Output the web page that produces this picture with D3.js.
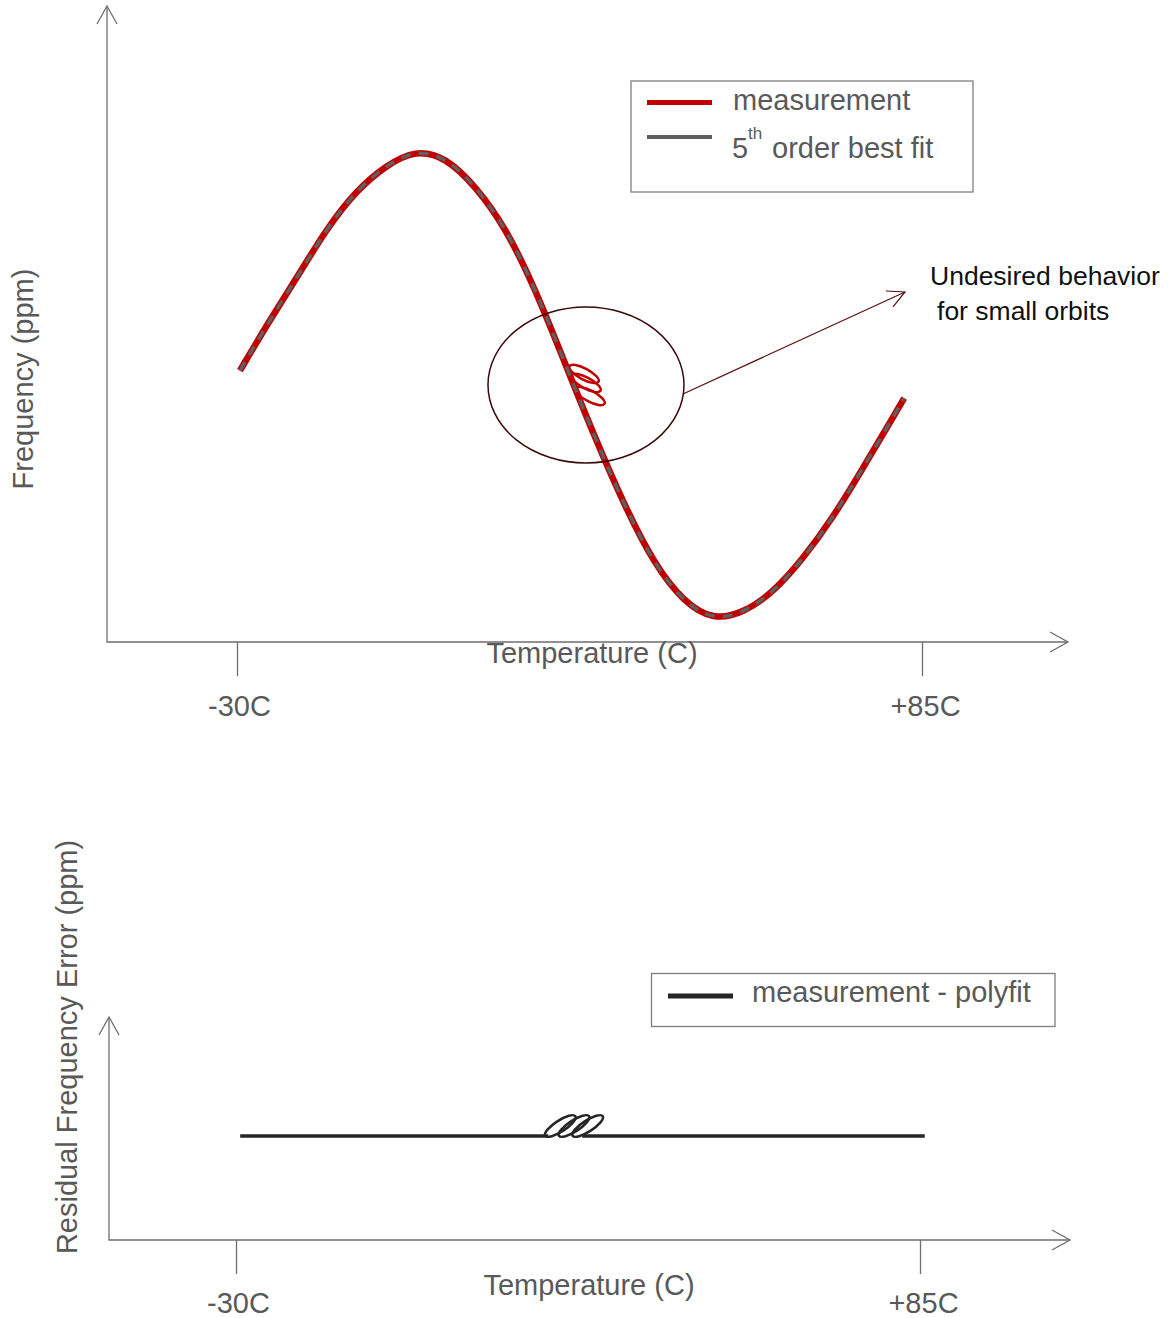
<!DOCTYPE html>
<html>
<head>
<meta charset="utf-8">
<script src="https://cdn.jsdelivr.net/npm/d3@7"></script>
<style>
  body { margin: 0; background: #fff; }
  svg { display: block; font-family: "Liberation Sans", Arial, sans-serif; }
</style>
</head>
<body>
<svg id="chart" width="1175" height="1318"></svg>
<script>
// top chart: frequency vs temperature
const temps = [-29.5, -25, -20, -15, -10, -5, 0, 5, 10, 15, 20, 25, 30, 35, 40, 45, 50, 55, 60, 65, 70, 75, 80, 82];
const measuredPpm = [1.2, 5.0, 8.9, 13.0, 16.2, 18.3, 19.6, 19.0, 16.6, 13.2, 8.1, 1.9, -4.3, -10.0, -14.9, -18.1, -19.6, -19.0, -17.3, -14.5, -11.1, -7.0, -2.8, -1.1];
const fitPpm = [1.2, 5.0, 8.9, 13.0, 16.2, 18.3, 19.6, 19.0, 16.6, 13.2, 8.1, 1.9, -4.3, -10.0, -14.9, -18.1, -19.6, -19.0, -17.3, -14.5, -11.1, -7.0, -2.8, -1.1];

// the small orbit loops (loop centres)
const orbitTemps = [28.26, 28.59, 29.26];
const orbitPpm = [0.92, 0.17, -0.92];

// bottom chart: residual (null = the loops take over)
const residualTemps = [-29.3, -10, 10, 22.5, 25, 28.2, 50, 70, 85.8];
const residualPpm = [0, 0, 0, 0, null, 0, 0, 0, 0];
const residualOrbitTemps = [24.52, 26.83, 29.13];
const residualOrbitPpm = [0.1, 0.1, 0.1];

const tickTemps = [-30, 85];
const tickLabels = ["-30C", "+85C"];

// annotation: circle centre, arrow start, arrow tip (temp, ppm)
const noteCircle = [28.59, 0];
const noteArrowFrom = [44.87, -0.75];
const noteArrowTo = [82.15, 7.75];

const svg = d3.select("#chart");
const textGray = "#595959";
const axisGray = "#6e6e6e";

// scales
const xTop = d3.scaleLinear().domain([-30, 85]).range([237, 922]);
const yTop = d3.scaleLinear().domain([-21.417, 31.583]).range([642, 6]);
const xBot = d3.scaleLinear().domain([-30, 85]).range([236, 920]);
const yBot = d3.scaleLinear().domain([-1.04, 1.19]).range([1240, 1017]);

function arrowAxes(g, x0, y0, xEnd, yEnd) {
  g.append("path")
    .attr("d", `M${x0},${yEnd}V${y0}H${xEnd}`)
    .attr("fill", "none").attr("stroke", axisGray).attr("stroke-width", 1.3);
  // open arrow heads
  g.append("path")
    .attr("d", `M${x0 - 10},${yEnd + 18}L${x0},${yEnd}L${x0 + 10},${yEnd + 18}`)
    .attr("fill", "none").attr("stroke", axisGray).attr("stroke-width", 1.3);
  g.append("path")
    .attr("d", `M${xEnd - 18},${y0 - 10}L${xEnd},${y0}L${xEnd - 18},${y0 + 10}`)
    .attr("fill", "none").attr("stroke", axisGray).attr("stroke-width", 1.3);
}

function tickAxis(g, x, y0, pad) {
  const ax = d3.axisBottom(x).tickValues(tickTemps).tickSize(34).tickPadding(pad)
    .tickFormat((d, i) => tickLabels[i]);
  g.attr("transform", `translate(0,${y0})`).call(ax);
  g.select(".domain").remove();
  g.selectAll(".tick line").attr("stroke", axisGray).attr("stroke-width", 1.3);
  g.selectAll(".tick text").attr("fill", textGray).attr("font-size", 29)
    .attr("font-family", "Liberation Sans, Arial, sans-serif")
    .attr("dx", (d, i) => i === 0 ? 2 : 3);
}

// ---------- top chart ----------
const topG = svg.append("g");
arrowAxes(topG, 107, 642, 1068, 6);
tickAxis(topG.append("g"), xTop, 642, 19);

topG.append("text").attr("x", 592).attr("y", 663).attr("text-anchor", "middle")
  .attr("font-size", 29).attr("fill", textGray).text("Temperature (C)");
topG.append("text").attr("transform", "translate(33,379) rotate(-90)").attr("text-anchor", "middle")
  .attr("font-size", 29).attr("fill", textGray).text("Frequency (ppm)");

const lineTop = d3.line()
  .x(d => xTop(d[0])).y(d => yTop(d[1]))
  .curve(d3.curveBasis);

topG.append("path")
  .datum(temps.map((t, i) => [t, measuredPpm[i]]))
  .attr("d", lineTop)
  .attr("fill", "none").attr("stroke", "#c00000").attr("stroke-width", 6.5);

topG.selectAll(".orbit")
  .data(orbitTemps.map((t, i) => [t, orbitPpm[i]]))
  .join("ellipse")
  .attr("class", "orbit")
  .attr("transform", d => `translate(${xTop(d[0])},${yTop(d[1])}) rotate(28)`)
  .attr("rx", 16.5).attr("ry", 5.5)
  .attr("fill", "none").attr("stroke", "#c00000").attr("stroke-width", 2.5);

topG.append("path")
  .datum(temps.map((t, i) => [t, fitPpm[i]]))
  .attr("d", lineTop)
  .attr("fill", "none").attr("stroke", "#5f5f5f").attr("stroke-width", 3.5)
  .attr("stroke-dasharray", "10,8");

// annotation
topG.append("ellipse")
  .attr("cx", xTop(noteCircle[0])).attr("cy", yTop(noteCircle[1]))
  .attr("rx", 98).attr("ry", 78)
  .attr("fill", "none").attr("stroke", "#3a0808").attr("stroke-width", 1.5);

const ax0 = xTop(noteArrowFrom[0]), ay0 = yTop(noteArrowFrom[1]);
const ax1 = xTop(noteArrowTo[0]), ay1 = yTop(noteArrowTo[1]);
topG.append("line")
  .attr("x1", ax0).attr("y1", ay0).attr("x2", ax1).attr("y2", ay1)
  .attr("stroke", "#5a1010").attr("stroke-width", 1.2);
topG.append("path")
  .attr("d", `M${ax1 - 19},${ay1 - 1}L${ax1},${ay1}L${ax1 - 12},${ay1 + 15}`)
  .attr("fill", "none").attr("stroke", "#5a1010").attr("stroke-width", 1.2);

topG.append("text").attr("x", ax1 + 25).attr("y", ay1 - 7)
  .attr("font-size", 26.5).attr("fill", "#111").text("Undesired behavior");
topG.append("text").attr("x", ax1 + 32).attr("y", ay1 + 28)
  .attr("font-size", 26.5).attr("fill", "#111").text("for small orbits");

// legend
const leg = topG.append("g");
leg.append("rect").attr("x", 631).attr("y", 81).attr("width", 342).attr("height", 111)
  .attr("fill", "#fff").attr("stroke", "#7f7f7f").attr("stroke-width", 1.3);
leg.append("line").attr("x1", 647).attr("x2", 712).attr("y1", 102.5).attr("y2", 102.5)
  .attr("stroke", "#c00000").attr("stroke-width", 5);
leg.append("line").attr("x1", 647).attr("x2", 712).attr("y1", 137).attr("y2", 137)
  .attr("stroke", "#5f5f5f").attr("stroke-width", 4);
leg.append("text").attr("x", 733).attr("y", 110).attr("font-size", 29).attr("fill", textGray).text("measurement");
leg.append("text").attr("x", 732).attr("y", 158).attr("font-size", 29).attr("fill", textGray).text("5");
leg.append("text").attr("x", 748).attr("y", 139).attr("font-size", 17).attr("fill", textGray).text("th");
leg.append("text").attr("x", 772).attr("y", 158).attr("font-size", 29).attr("fill", textGray).text("order best fit");

// ---------- bottom chart ----------
const botG = svg.append("g");
arrowAxes(botG, 109, 1240, 1070, 1017);
tickAxis(botG.append("g"), xBot, 1240, 18);

botG.append("text").attr("x", 589).attr("y", 1295).attr("text-anchor", "middle")
  .attr("font-size", 29).attr("fill", textGray).text("Temperature (C)");
botG.append("text").attr("transform", "translate(77,1047) rotate(-90)").attr("text-anchor", "middle")
  .attr("font-size", 29).attr("fill", textGray).text("Residual Frequency Error (ppm)");

const lineBot = d3.line()
  .defined(d => d[1] !== null)
  .x(d => xBot(d[0])).y(d => yBot(d[1]));

botG.append("path")
  .datum(residualTemps.map((t, i) => [t, residualPpm[i]]))
  .attr("d", lineBot)
  .attr("fill", "none").attr("stroke", "#262626").attr("stroke-width", 3.5);

botG.selectAll(".orbit")
  .data(residualOrbitTemps.map((t, i) => [t, residualOrbitPpm[i]]))
  .join("ellipse")
  .attr("class", "orbit")
  .attr("transform", d => `translate(${xBot(d[0])},${yBot(d[1])}) rotate(-33)`)
  .attr("rx", 18).attr("ry", 5.5)
  .attr("fill", "none").attr("stroke", "#262626").attr("stroke-width", 2.5);

const leg2 = botG.append("g");
leg2.append("rect").attr("x", 651.5).attr("y", 973.5).attr("width", 403.5).attr("height", 53)
  .attr("fill", "#fff").attr("stroke", "#7f7f7f").attr("stroke-width", 1.3);
leg2.append("line").attr("x1", 668).attr("x2", 733).attr("y1", 996).attr("y2", 996)
  .attr("stroke", "#262626").attr("stroke-width", 5);
leg2.append("text").attr("x", 752).attr("y", 1002).attr("font-size", 29).attr("fill", textGray)
  .text("measurement - polyfit");
</script>
</body>
</html>
